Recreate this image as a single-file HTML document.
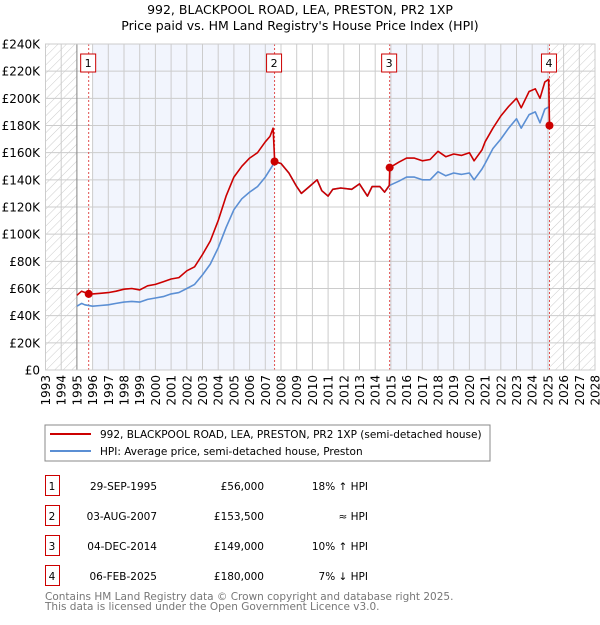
<!DOCTYPE html>
<html><head><meta charset="utf-8"><style>
body{margin:0;background:#fff;font-family:"Liberation Sans","DejaVu Sans",sans-serif;}
svg text{font-family:"DejaVu Sans","Liberation Sans",sans-serif;}
</style></head><body>
<svg id="c" width="600" height="620" xmlns="http://www.w3.org/2000/svg">
<defs><pattern id="hatch" width="6" height="6" patternUnits="userSpaceOnUse" patternTransform="rotate(45)"><line x1="0" y1="0" x2="0" y2="6" stroke="#ccc" stroke-width="1"/></pattern></defs>
<text x="300" y="14" text-anchor="middle" font-size="12.5" fill="#000">992, BLACKPOOL ROAD, LEA, PRESTON, PR2 1XP</text>
<text x="300" y="30" text-anchor="middle" font-size="12.5" fill="#000">Price paid vs. HM Land Registry's House Price Index (HPI)</text>
<g id="plot"></g>
<rect x="45" y="425" width="445" height="36" fill="#fff" stroke="#888"/>
<g><line x1="50" y1="434" x2="91" y2="434" stroke="#cc0000" stroke-width="2"/><text x="100" y="438" font-size="10.5">992, BLACKPOOL ROAD, LEA, PRESTON, PR2 1XP (semi-detached house)</text></g>
<g><line x1="50" y1="451" x2="91" y2="451" stroke="#5b8fd4" stroke-width="2"/><text x="100" y="455" font-size="10.5">HPI: Average price, semi-detached house, Preston</text></g>
<g id="table" font-size="10.5"></g>
<text x="45" y="600" font-size="10.5" fill="#777">Contains HM Land Registry data © Crown copyright and database right 2025.</text>
<text x="45" y="610" font-size="10.5" fill="#777">This data is licensed under the Open Government Licence v3.0.</text>
</svg>
<script>
const hpiYears=[1995.0,1995.3,1995.5,1996,1996.5,1997,1997.5,1998,1998.5,1999,1999.5,2000,2000.5,2001,2001.5,2002,2002.5,2003,2003.5,2004,2004.5,2005,2005.5,2006,2006.5,2007,2007.6,2008,2008.5,2009,2009.3,2009.8,2010.3,2010.6,2011,2011.3,2011.8,2012.5,2013,2013.5,2013.8,2014.3,2014.6,2014.93,2015.5,2016,2016.5,2017,2017.5,2018,2018.5,2019,2019.5,2020,2020.3,2020.8,2021,2021.5,2022,2022.5,2023,2023.3,2023.8,2024.2,2024.5,2024.8,2025.1];
const hpiValues=[47,49,48,47,47.5,48,49,50,50.5,50,52,53,54,56,57,60,63,70,78,90,105,118,126,131,135,142,153,152,145,135,130,135,140,132,128,133,134,133,137,128,135,135,131,136,139,142,142,140,140,146,143,145,144,145,140,148,152,163,170,178,185,178,188,190,182,192,194];
const ppYears=[1995.0,1995.3,1995.75,1996,1996.5,1997,1997.5,1998,1998.5,1999,1999.5,2000,2000.5,2001,2001.5,2002,2002.5,2003,2003.5,2004,2004.5,2005,2005.5,2006,2006.5,2007,2007.3,2007.5,2007.6,2008,2008.5,2009,2009.3,2009.8,2010.3,2010.6,2011,2011.3,2011.8,2012.5,2013,2013.5,2013.8,2014.3,2014.6,2014.9,2014.93,2015.5,2016,2016.5,2017,2017.5,2018,2018.5,2019,2019.5,2020,2020.3,2020.8,2021,2021.5,2022,2022.5,2023,2023.3,2023.8,2024.2,2024.5,2024.8,2025.05,2025.1];
const ppValues=[55,58,56,56,56.5,57,58,59.5,60,59,62,63,65,67,68,73,76,85,95,110,128,142,150,156,160,168,172,178,153.5,152,145,135,130,135,140,132,128,133,134,133,137,128,135,135,131,136,149,153,156,156,154,155,161,157,159,158,160,154,162,168,178,187,194,200,193,205,207,200,212,214,180];
const saleIds=["1","2","3","4"];
const saleYears=[1995.75,2007.59,2014.92,2025.1];
const saleValues=[56,153.5,149,180];
const saleDates=["29-SEP-1995","03-AUG-2007","04-DEC-2014","06-FEB-2025"];
const salePrices=["£56,000","£153,500","£149,000","£180,000"];
const saleHpi=["18% ↑ HPI","≈ HPI","10% ↑ HPI","7% ↓ HPI"];
const yTicks=[0,20,40,60,80,100,120,140,160,180,200,220,240];
const yTickLabels=["£0","£20K","£40K","£60K","£80K","£100K","£120K","£140K","£160K","£180K","£200K","£220K","£240K"];
const xTicks=[1993,1994,1995,1996,1997,1998,1999,2000,2001,2002,2003,2004,2005,2006,2007,2008,2009,2010,2011,2012,2013,2014,2015,2016,2017,2018,2019,2020,2021,2022,2023,2024,2025,2026,2027,2028];

const NS="http://www.w3.org/2000/svg";
const X0=45.5,X1=595,Y0=370,Y1=44;
const x=v=>X0+(v-1993)/(2028-1993)*(X1-X0);
const y=v=>Y0-v/240*(Y0-Y1);
const plot=document.getElementById('plot');
function mk(tag,attrs,parent){const e=document.createElementNS(NS,tag);for(const k in attrs)e.setAttribute(k,attrs[k]);(parent||plot).appendChild(e);return e;}
let e;
e=mk('rect',{x:X0,y:Y1,width:X1-X0,height:Y0-Y1,fill:'#fff'});


e=mk('rect',{x:x(1996),y:Y1,width:x(saleYears[1])-x(1996),height:Y0-Y1,fill:'#f2f5fd'});


e=mk('rect',{x:x(saleYears[2]),y:Y1,width:x(saleYears[3])-x(saleYears[2]),height:Y0-Y1,fill:'#f2f5fd'});


e=mk('rect',{x:X0,y:Y1,width:x(1995)-X0,height:Y0-Y1,fill:'url(#hatch)'});


e=mk('rect',{x:x(saleYears[3]),y:Y1,width:X1-x(saleYears[3]),height:Y0-Y1,fill:'url(#hatch)'});


yTicks.forEach((t,i)=>{
  e=mk('line',{x1:X0,x2:X1,y1:y(t),y2:y(t),stroke:'#ccc','stroke-width':1});
  
  
  e=mk('text',{x:40,y:y(t)+4.5,'text-anchor':'end','font-size':12});
  e.textContent=yTickLabels[i];
  
  
});
xTicks.forEach(t=>{
  e=mk('line',{x1:x(t),x2:x(t),y1:Y1,y2:Y0,stroke:'#ccc','stroke-width':1});
  
  
  e=mk('text',{x:0,y:0,'text-anchor':'end','font-size':12,transform:`translate(${x(t)+4.5},375) rotate(-90)`});
  e.textContent=t;
  
  
});
e=mk('line',{x1:x(1995),x2:x(1995),y1:Y1,y2:Y0,stroke:'#888','stroke-width':1});


saleYears.forEach((s,i)=>{
  e=mk('line',{x1:x(s),x2:x(s),y1:Y1,y2:Y0,stroke:'#e05050','stroke-width':1,'stroke-dasharray':'2,2'});
  
  
});
e=mk('rect',{x:X0,y:Y1,width:X1-X0,height:Y0-Y1,fill:'none',stroke:'#ccc'});


const pts=(xs,vs)=>xs.map((v,i)=>x(v).toFixed(1)+','+y(vs[i]).toFixed(1)).join(' ');
e=mk('polyline',{points:pts(hpiYears,hpiValues),fill:'none',stroke:'#5b8fd4','stroke-width':1.6,'stroke-linejoin':'round'});


e=mk('polyline',{points:pts(ppYears,ppValues),fill:'none',stroke:'#cc0000','stroke-width':1.6,'stroke-linejoin':'round'});


saleYears.forEach((s,i)=>{
  e=mk('circle',{cx:x(s),cy:y(saleValues[i]),r:4,fill:'#cc0000'});
  
  
  e=mk('rect',{x:x(s)-8,y:54,width:15,height:18,fill:'#fff',stroke:'#cc0000'});
  
  
  e=mk('text',{x:x(s)-0.5,y:67,'text-anchor':'middle','font-size':11});
  e.textContent=saleIds[i];
  
  
});
const tb=document.getElementById('table');
saleIds.forEach((id,i)=>{
  const ry=476+i*30;
  e=mk('rect',{x:45.5,y:ry-0.5,width:14,height:20,fill:'#fff',stroke:'#cc0000'},tb);
  
  
  const cols=[[52,'middle',id,'table-id'],[157,'end',saleDates[i],'table-date'],[264,'end',salePrices[i],'table-price'],[368,'end',saleHpi[i],'table-hpi']];
  cols.forEach(c=>{
    e=mk('text',{x:c[0],y:ry+14,'text-anchor':c[1]},tb);
    e.textContent=c[2];
    
    
  });
});
</script>
</body></html>
